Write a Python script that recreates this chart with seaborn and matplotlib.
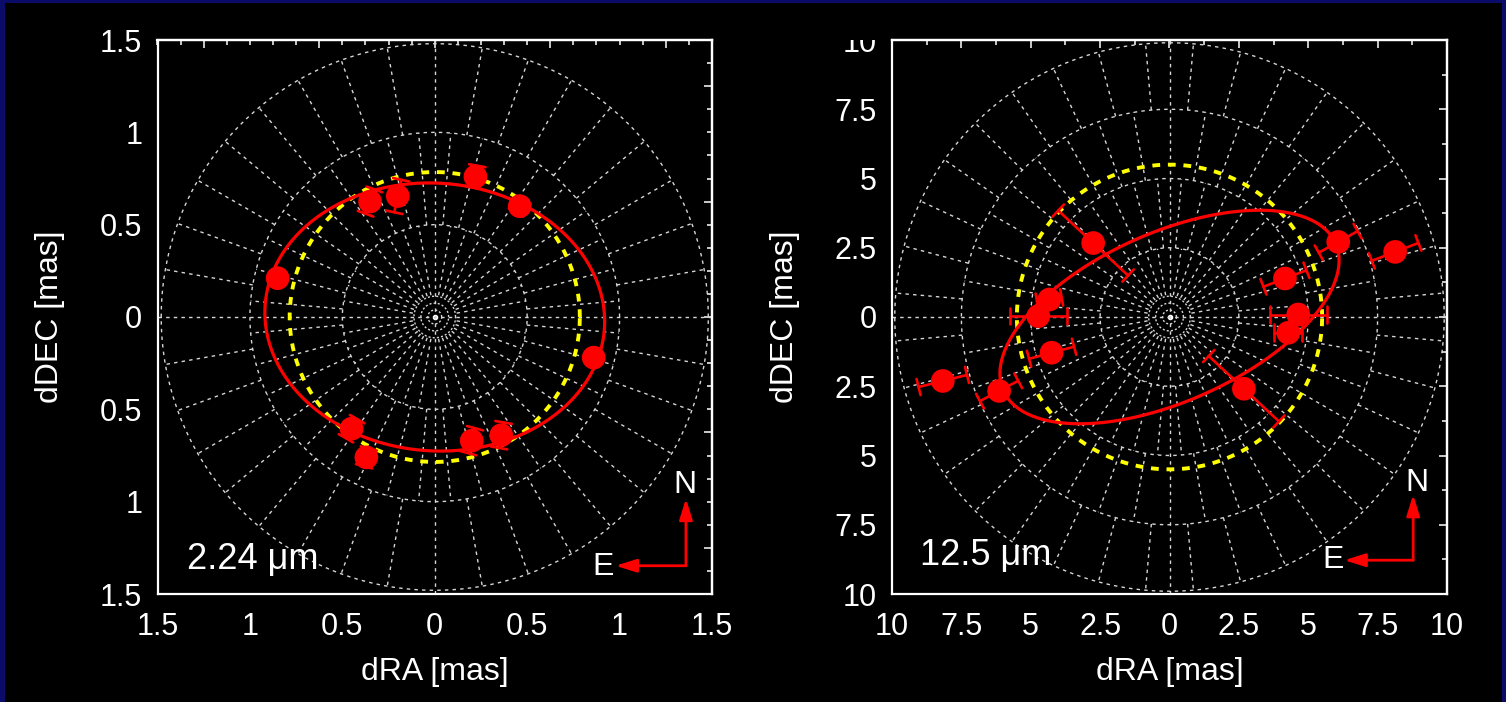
import numpy as np
import matplotlib
matplotlib.use("Agg")
import matplotlib.pyplot as plt
from matplotlib.patches import Rectangle
from matplotlib.ticker import FixedLocator, FixedFormatter, MultipleLocator, NullFormatter
from matplotlib.transforms import Bbox, TransformedBbox
import seaborn as sns
import pandas as pd

sns.set_theme(style="dark")
plt.rcParams['font.family'] = ['Liberation Sans', 'DejaVu Sans']

# ---------------- 2.24 micron: photocentre positions (mas) ----------------
ra_k = [-0.85, -0.35, -0.20, 0.22, 0.46, 0.86, 0.20, 0.36, -0.45, -0.37]
dec_k = [0.21, 0.625, 0.655, 0.76, 0.60, -0.22, -0.67, -0.64, -0.605, -0.76]
err_k = [0.03, 0.07, 0.09, 0.06, 0.04, 0.03, 0.07, 0.07, 0.06, 0.05]   # half length of error bar
errang_k = [80, 70, 78, 80, 60, 10, 75, 80, 60, 75]                    # bar orientation (deg)
# fitted ellipse (semi-axes, rotation) and reference ring radius
ell_k = (0.92, 0.725, -4.0)
ring_k = 0.785

# ---------------- 12.5 micron ----------------
ra_n = [-2.75, -4.33, -4.73, -4.25, -8.17, -6.14, 6.08, 8.13, 4.16, 4.64, 4.28, 2.68]
dec_n = [2.67, 0.63, 0.03, -1.29, -2.31, -2.67, 2.71, 2.35, 1.39, 0.09, -0.57, -2.59]
err_n = [1.72, 0.45, 1.02, 0.84, 0.90, 0.78, 0.80, 0.90, 0.83, 1.02, 0.50, 1.73]
errang_n = [-43, 10, 0, 15, 14, 28, 29, 21, 21, 0, 0, -43]
ell_n = (6.55, 3.05, 24.0)
ring_n = 5.5

# axis ticks
ticks_k = [-1.5, -1.0, -0.5, 0.0, 0.5, 1.0, 1.5]
labels_k = ['1.5', '1', '0.5', '0', '0.5', '1', '1.5']
ticks_n = [-10, -7.5, -5, -2.5, 0, 2.5, 5, 7.5, 10]
labels_n = ['10', '7.5', '5', '2.5', '0', '2.5', '5', '7.5', '10']

NAVY = '#0b0b6a'
GRID = '#d6d6d6'
W, H = 1506, 702

fig = plt.figure(figsize=(W / 100, H / 100), dpi=100, facecolor=NAVY)
fig.add_artist(Rectangle((5 / W, 0), 1497 / W, 699 / H, transform=fig.transFigure,
                         facecolor='black', edgecolor='none', zorder=-20))


def polar_grid(ax, R, rings, annuli):
    t = np.linspace(0, 2 * np.pi, 721)
    gkw = dict(color=GRID, lw=1.0, ls=(0, (2.5, 3.0)), zorder=1)
    for r in rings:
        ax.plot(r * np.cos(t), r * np.sin(t), **gkw)
    for r in (0.025 * R, 0.05 * R, 0.075 * R):
        ax.plot(r * np.cos(t), r * np.sin(t), color=GRID, lw=1.0, ls=(0, (1.5, 1.5)), zorder=1)
    ax.plot([0], [0], 'o', color='white', ms=3, zorder=1)
    for r0, r1, step, off in annuli:
        for a in np.arange(off, 360, step):
            if abs(a % 90) < 1e-6:
                continue
            c, s = np.cos(np.radians(a)), np.sin(np.radians(a))
            ax.plot([r0 * c, r1 * c], [r0 * s, r1 * s], **gkw)
    ax.plot([-R, R], [0, 0], **gkw)
    ax.plot([0, 0], [-R, R], **gkw)


def model_curves(ax, ell, ring):
    t = np.linspace(0, 2 * np.pi, 400)
    a, b, th = ell
    th = np.radians(th)
    ex = a * np.cos(t) * np.cos(th) - b * np.sin(t) * np.sin(th)
    ey = a * np.cos(t) * np.sin(th) + b * np.sin(t) * np.cos(th)
    ax.plot(ring * np.cos(t), ring * np.sin(t), color='#ffff00', lw=2.8,
            ls=(0, (2.0, 2.0)), zorder=3)
    sns.lineplot(x=ex, y=ey, sort=False, estimator=None, color='red', lw=2.3,
                 ax=ax, zorder=4)


def points(ax, ra, dec, err, ang, cap):
    for x, y, e, a in zip(ra, dec, err, ang):
        c, s = np.cos(np.radians(a)), np.sin(np.radians(a))
        ax.plot([x - e * c, x + e * c], [y - e * s, y + e * s], color='red', lw=1.9, zorder=5)
        for sgn in (-1, 1):
            px, py = x + sgn * e * c, y + sgn * e * s
            ax.plot([px + cap * s, px - cap * s], [py - cap * c, py + cap * c],
                    color='red', lw=1.9, zorder=5)
    df = pd.DataFrame({'ra': ra, 'dec': dec})
    sns.scatterplot(data=df, x='ra', y='dec', ax=ax, color='red', s=290,
                    edgecolor='none', linewidth=0, zorder=6)


def axes_style(ax, R, ticks, labels, minor, sec_major, sec_minor):
    ax.set_facecolor('black')
    ax.set_xlim(-R, R)
    ax.set_ylim(-R, R)
    for axis in (ax.xaxis, ax.yaxis):
        axis.set_major_locator(FixedLocator(ticks))
        axis.set_major_formatter(FixedFormatter(labels))
        axis.set_minor_locator(MultipleLocator(minor))
    ax.tick_params(which='both', direction='in', color='white', labelcolor='white',
                   labelsize=22, width=1.1)
    ax.tick_params(which='major', length=6)
    ax.tick_params(which='minor', length=3.6)
    ax.tick_params(axis='x', pad=13)
    ax.tick_params(axis='y', pad=11)
    for sp in ax.spines.values():
        sp.set_color('white')
        sp.set_linewidth(1.6)
        sp.set_zorder(10)
    sx = ax.secondary_xaxis('top')
    sy = ax.secondary_yaxis('right')
    for sec, axis in ((sx, sx.xaxis), (sy, sy.yaxis)):
        axis.set_major_locator(FixedLocator(sec_major))
        axis.set_minor_locator(MultipleLocator(sec_minor))
        axis.set_major_formatter(NullFormatter())
        sec.tick_params(which='both', direction='in', color='white', width=1.1)
        sec.tick_params(which='major', length=6)
        sec.tick_params(which='minor', length=3.6)
        for sp in sec.spines.values():
            sp.set_color('white')
            sp.set_linewidth(1.6)
    ax.set_xlabel('dRA [mas]', color='white', fontsize=23)
    ax.set_ylabel('dDEC [mas]', color='white', fontsize=23)
    ax.xaxis.set_label_coords(0.5, -0.113)
    ax.yaxis.set_label_coords(-0.166, 0.5)


def compass(ax, corner, n_tip, e_tip, n_lab, e_lab):
    akw = dict(arrowstyle='-|>,head_length=0.7,head_width=0.22', color='red', lw=2.0,
               mutation_scale=18, shrinkA=0, shrinkB=0)
    ax.annotate('', xy=(corner[0], n_tip), xytext=corner, xycoords='axes fraction',
                textcoords='axes fraction', arrowprops=akw, zorder=8)
    ax.annotate('', xy=(e_tip, corner[1]), xytext=corner, xycoords='axes fraction',
                textcoords='axes fraction', arrowprops=akw, zorder=8)
    ax.text(*n_lab, 'N', transform=ax.transAxes, color='white', fontsize=23,
            ha='center', va='center')
    ax.text(*e_lab, 'E', transform=ax.transAxes, color='white', fontsize=23,
            ha='center', va='center')


# ---------------- left panel: 2.24 micron ----------------
axL = fig.add_axes([157.5 / W, 1 - 594 / H, 554.5 / W, 554 / H])
polar_grid(axL, 1.5, [0.5, 1.0, 1.48],
           [(0.12, 0.5, 10, 0), (0.5, 1.0, 10, 5), (1.0, 1.48, 10, 0)])
model_curves(axL, ell_k, ring_k)
points(axL, ra_k, dec_k, err_k, errang_k, cap=0.045)
axes_style(axL, 1.5, ticks_k, labels_k, 0.1,
           [-1.25, -0.625, 0, 0.625, 1.25], 0.125)
axL.text(0.053, 0.062, '2.24 μm', transform=axL.transAxes, color='white',
         fontsize=26, ha='left', va='center')
compass(axL, (0.953, 0.051), 0.172, 0.826, (0.952, 0.197), (0.803, 0.049))

# ---------------- right panel: 12.5 micron ----------------
axR = fig.add_axes([892 / W, 1 - 594 / H, 555 / W, 554 / H])
polar_grid(axR, 10, [2.5, 5.0, 7.5, 9.9],
           [(0.8, 2.5, 10, 0), (2.5, 5.0, 10, 5), (5.0, 7.5, 10, 0), (7.5, 9.9, 10, 5)])
model_curves(axR, ell_n, ring_n)
points(axR, ra_n, dec_n, err_n, errang_n, cap=0.3)
axes_style(axR, 10, ticks_n, labels_n, 0.5,
           [-7.5, -5, -2.5, 0, 2.5, 5, 7.5], 1.25)
axR.text(0.05, 0.07, '12.5 μm', transform=axR.transAxes, color='white',
         fontsize=26, ha='left', va='center')
compass(axR, (0.939, 0.061), 0.179, 0.815, (0.945, 0.2), (0.794, 0.061))

# the uppermost dDEC label of the right panel is cut by the top of the frame
top_clip = TransformedBbox(Bbox([[0, 0], [1, 1 - 40 / H]]), fig.transFigure)
lab = axR.yaxis.get_major_ticks()[-1].label1
lab.set_clip_on(True)
lab.set_clip_box(top_clip)

fig.savefig('out.png', dpi=100, facecolor=NAVY)
